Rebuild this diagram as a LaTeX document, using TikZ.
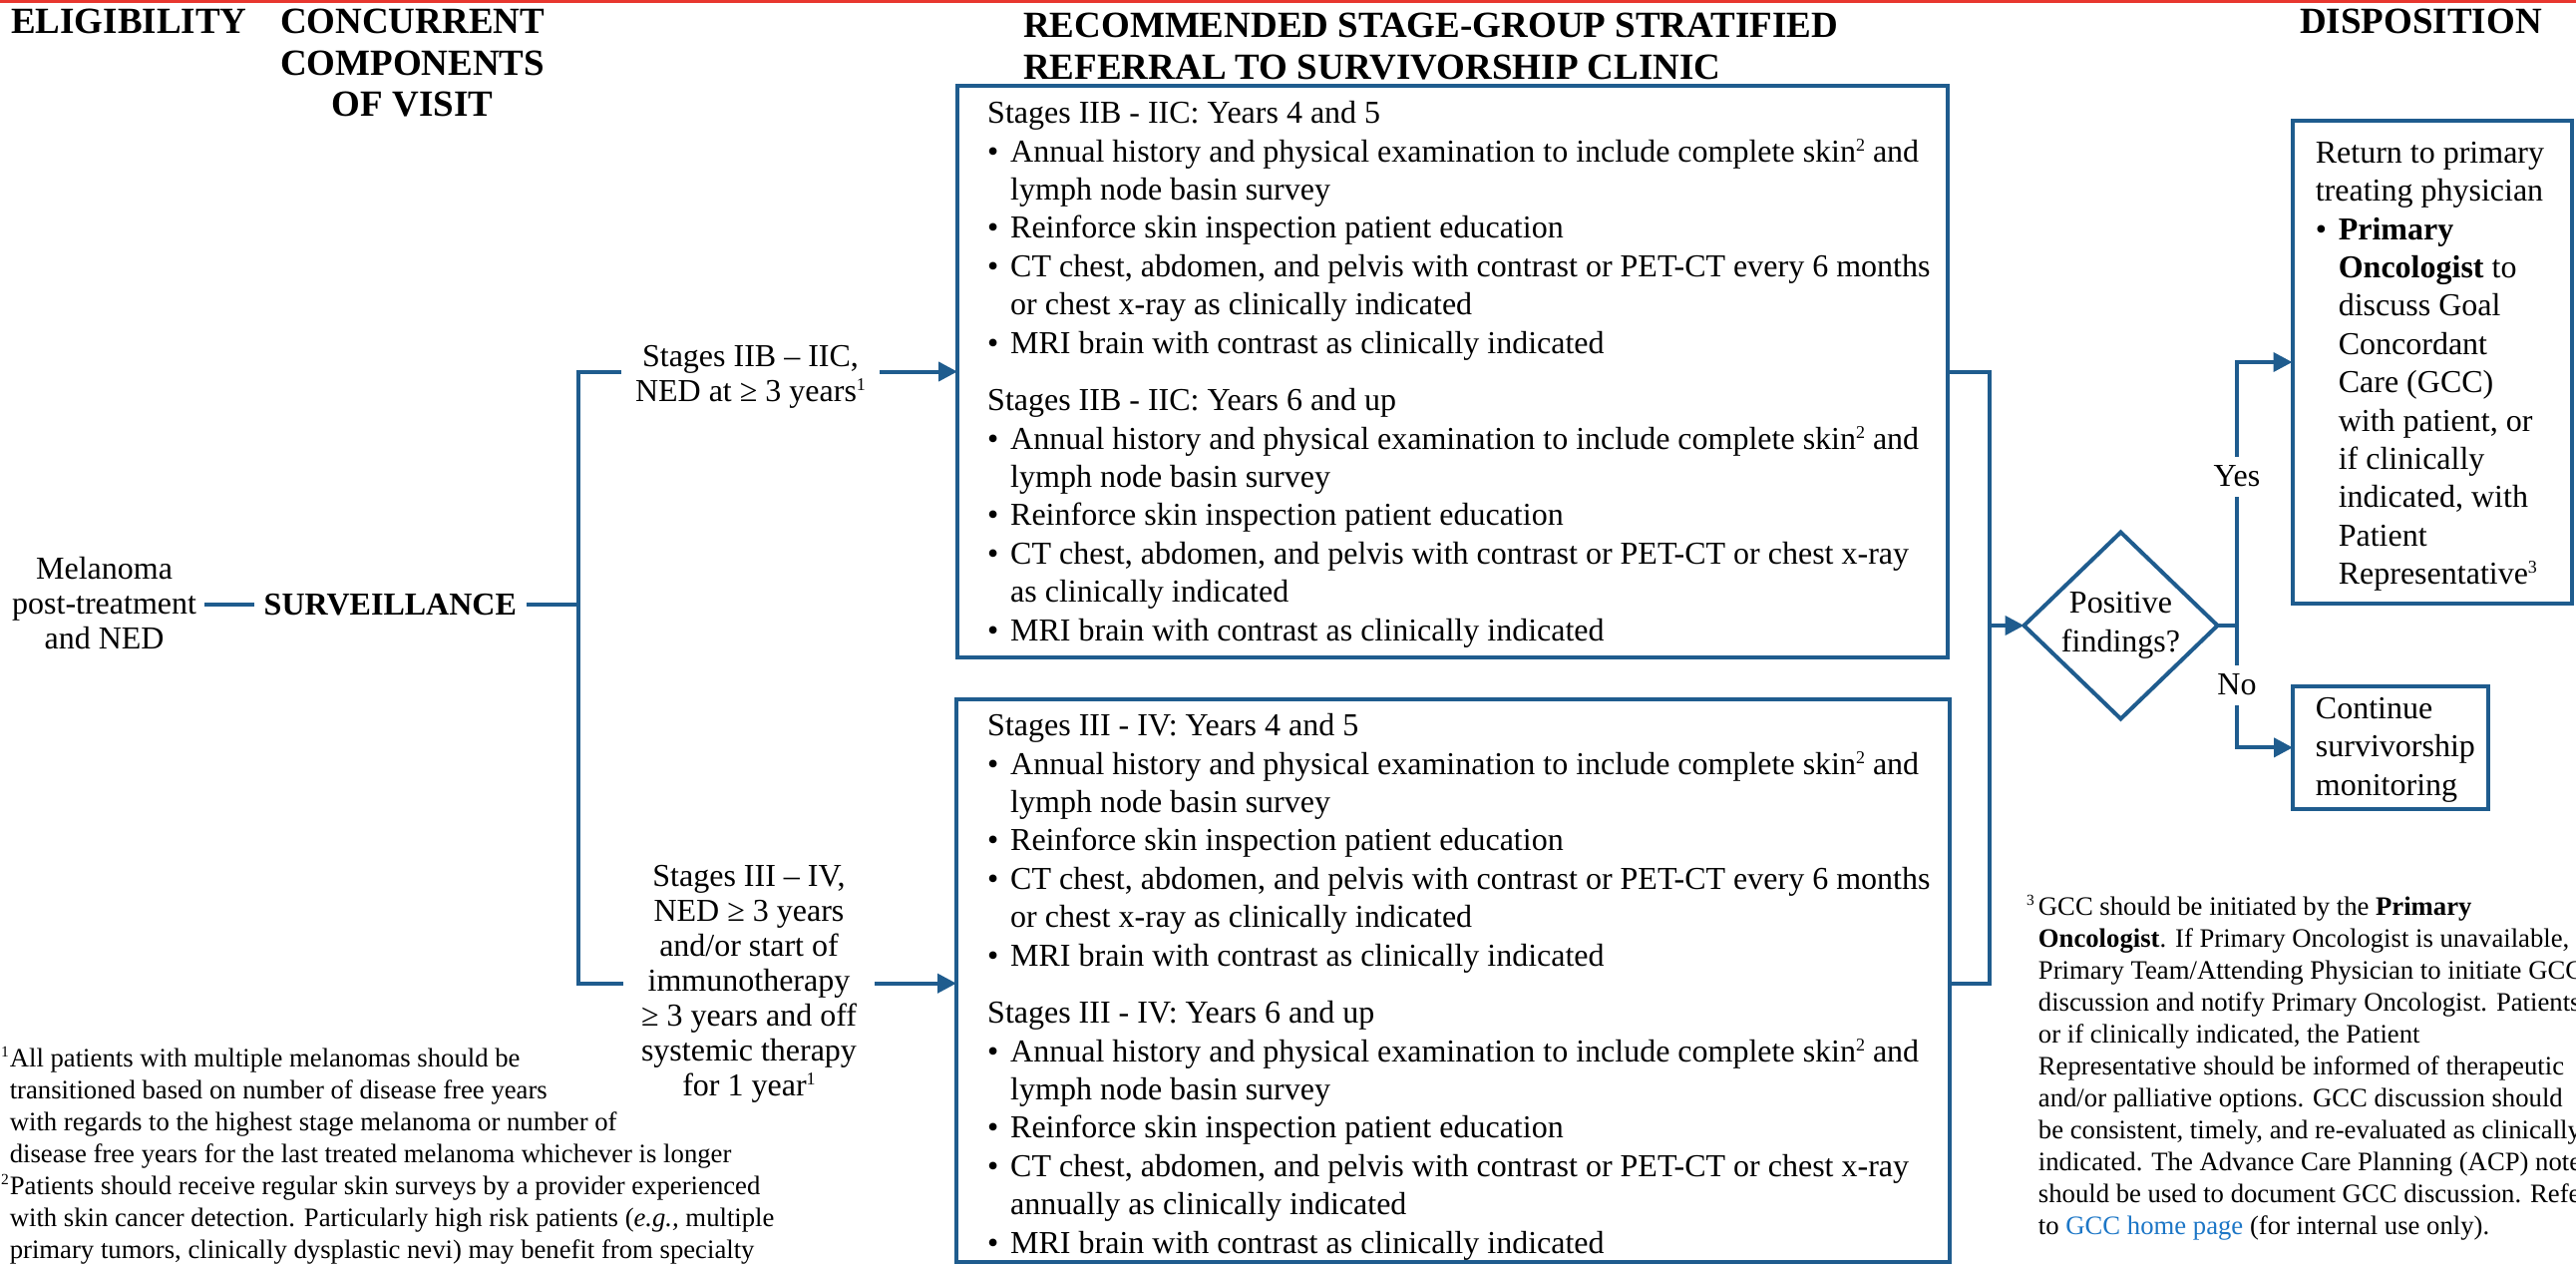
\documentclass[tikz,border=0pt]{standalone}
\usepackage{fontspec}
\setmainfont{Liberation Serif}
\usetikzlibrary{arrows.meta,shapes.geometric,calc}
\definecolor{flowblue}{HTML}{1F5C8E}
\definecolor{topred}{HTML}{E8372F}
\definecolor{linkblue}{HTML}{1C76C6}
\newcommand{\bul}{\makebox[23pt][l]{\textbullet}}
\newcommand{\ind}{\makebox[23pt]{}}
\newcommand{\sups}[1]{\raisebox{11pt}{\fontsize{18}{18}\selectfont #1}}
\newcommand{\nsups}[1]{\raisebox{9.5pt}{\fontsize{15.5}{15.5}\selectfont #1}}
\begin{document}
\begin{tikzpicture}[x=1pt,y=-1pt,
  conn/.style={draw=flowblue,line width=4pt},
  arr/.style={conn,-{Triangle[length=19pt,width=19pt]}},
  box/.style={draw=flowblue,line width=4pt,rectangle,inner sep=0pt,outer sep=0pt,anchor=north west},
  body/.style={font=\fontsize{32}{38.4}\selectfont,align=left,inner sep=0pt,anchor=north west},
  lbl/.style={font=\fontsize{32}{35}\selectfont,align=center,inner ysep=0pt,anchor=north},
  head/.style={font=\bfseries\fontsize{37}{41.5}\selectfont,inner sep=0pt},
  note/.style={font=\fontsize{26.7}{32}\selectfont,align=left,inner sep=0pt,anchor=north west},
  yn/.style={font=\fontsize{32}{38.4}\selectfont,fill=white,inner xsep=3pt,inner ysep=0pt,text height=30pt,text depth=10pt,anchor=base},
]
\useasboundingbox (0,0) rectangle (2583,1269);
\fill[topred] (0,0) rectangle (2583,2.5);

% headers
\node[head,anchor=base west] (hElig) at (11,33.3) {ELIGIBILITY};
\node[head,align=center,anchor=north] (hConc) at (413.6,0.3) {\rule{0pt}{33pt}CONCURRENT\\COMPONENTS\\OF VISIT};
\node[head,align=left,anchor=north west] (hRec) at (1026,4.5) {\rule{0pt}{33pt}RECOMMENDED STAGE-GROUP STRATIFIED\\REFERRAL TO SURVIVORSHIP CLINIC};
\node[head,anchor=base east] (hDisp) at (2549,33.5) {DISPOSITION};

% boxes
\node[box,minimum width=993pt,minimum height=573pt] (b1) at (960,86) {};
\node[box,minimum width=996pt,minimum height=564.5pt] (b2) at (959,700.5) {};
\node[box,minimum width=280.5pt,minimum height=484pt] (ret) at (2298.5,121) {};
\node[box,minimum width=195.7pt,minimum height=122.7pt] (cont) at (2299,688) {};

% box texts
\node[body] (t1) at (990,93.5) {\rule{0pt}{30pt}Stages IIB - IIC: Years 4 and 5\\
\bul Annual history and physical examination to include complete skin\sups{2} and\\
\ind lymph node basin survey\\
\bul Reinforce skin inspection patient education\\
\bul CT chest, abdomen, and pelvis with contrast or PET-CT every 6 months\\
\ind or chest x-ray as clinically indicated\\
\bul MRI brain with contrast as clinically indicated\\[19.2pt]
Stages IIB - IIC: Years 6 and up\\
\bul Annual history and physical examination to include complete skin\sups{2} and\\
\ind lymph node basin survey\\
\bul Reinforce skin inspection patient education\\
\bul CT chest, abdomen, and pelvis with contrast or PET-CT or chest x-ray\\
\ind as clinically indicated\\
\bul MRI brain with contrast as clinically indicated};

\node[body] (t2) at (990,707.5) {\rule{0pt}{30pt}Stages III - IV: Years 4 and 5\\
\bul Annual history and physical examination to include complete skin\sups{2} and\\
\ind lymph node basin survey\\
\bul Reinforce skin inspection patient education\\
\bul CT chest, abdomen, and pelvis with contrast or PET-CT every 6 months\\
\ind or chest x-ray as clinically indicated\\
\bul MRI brain with contrast as clinically indicated\\[19.2pt]
Stages III - IV: Years 6 and up\\
\bul Annual history and physical examination to include complete skin\sups{2} and\\
\ind lymph node basin survey\\
\bul Reinforce skin inspection patient education\\
\bul CT chest, abdomen, and pelvis with contrast or PET-CT or chest x-ray\\
\ind annually as clinically indicated\\
\bul MRI brain with contrast as clinically indicated};

\node[body] (tret) at (2321.6,133) {\rule{0pt}{30pt}Return to primary\\
treating physician\\
\bul\textbf{Primary}\\
\ind\textbf{Oncologist} to\\
\ind discuss Goal\\
\ind Concordant\\
\ind Care (GCC)\\
\ind with patient, or\\
\ind if clinically\\
\ind indicated, with\\
\ind Patient\\
\ind Representative\sups{3}};

\node[body] (tcont) at (2321.7,690) {\rule{0pt}{30pt}Continue\\survivorship\\monitoring};

% left side
\node[lbl,inner xsep=8pt] (mel) at (104.6,550) {\rule{0pt}{30pt}Melanoma\\post-treatment\\and NED};
\node[font=\bfseries\fontsize{32}{38.4}\selectfont,inner xsep=10pt,anchor=base] (surv) at (391.3,616) {SURVEILLANCE};
\node[lbl,inner xsep=14pt] (lA) at (752.5,337) {\rule{0pt}{30pt}Stages IIB – IIC,\\NED at ≥ 3 years\sups{1}};
\node[lbl,inner xsep=18pt] (lB) at (751,858.3) {\rule{0pt}{30pt}Stages III – IV,\\NED ≥ 3 years\\and/or start of\\immunotherapy\\≥ 3 years and off\\systemic therapy\\for 1 year\sups{1}};

% decision
\node[draw=flowblue,line width=4pt,diamond,minimum width=194pt,minimum height=187pt,inner sep=0pt,outer sep=0pt,align=center,font=\fontsize{32}{38.4}\selectfont] (dia) at (2126.5,627) {Positive\\findings?};

% coordinates
\coordinate (jA) at (580,372.5);
\coordinate (jB) at (580,985.7);
\coordinate (rA) at (1995,372.5);
\coordinate (rB) at (1995,985.7);
\coordinate (yb) at (2243,627);

% connectors
\draw[conn] (mel.east |- surv.west) -- (surv.west);
\draw[conn] (surv.east) -- (surv.east -| jA);
\draw[conn] (jA -| lA.west) -- (jA) -- (jB) -- (jB -| lB.west);
\draw[arr] (jA -| lA.east) -- (jA -| b1.west);
\draw[arr] (jB -| lB.east) -- (jB -| b2.west);
\draw[conn] (rA -| b1.east) -- (rA) -- (rB) -- (rB -| b2.east);
\draw[arr] (rA |- dia.west) -- (dia.west);
\draw[arr] (dia.east) -- (yb) |- (ret.west);
\draw[arr] (dia.east) -- (yb) |- (cont.west);

\node[yn] (yes) at (2243,487.5) {Yes};
\node[yn] (no) at (2243,696.7) {No};

% footnotes
\node[note] (fn12) at (9.6,1041) {\rule{0pt}{28pt}\llap{\nsups{1}\hspace{1pt}}All patients with multiple melanomas should be\\
transitioned based on number of disease free years\\
with regards to the highest stage melanoma or number of\\
disease free years for the last treated melanoma whichever is longer\\
\llap{\nsups{2}\hspace{1pt}}Patients should receive regular skin surveys by a provider experienced\\
with skin cancer detection. Particularly high risk patients (\textit{e.g.,} multiple\\
primary tumors, clinically dysplastic nevi) may benefit from specialty};

\begin{scope}
\clip (2000,860) rectangle (2583,1269);
\node[note] (fn3) at (2043.7,889) {\rule{0pt}{28pt}\llap{\nsups{3}\hspace{4pt}}GCC should be initiated by the \textbf{Primary}\\
\textbf{Oncologist}. If Primary Oncologist is unavailable,\\
Primary Team/Attending Physician to initiate GCC\\
discussion and notify Primary Oncologist. Patients\\
or if clinically indicated, the Patient\\
Representative should be informed of therapeutic\\
and/or palliative options. GCC discussion should\\
be consistent, timely, and re-evaluated as clinically\\
indicated. The Advance Care Planning (ACP) note\\
should be used to document GCC discussion. Refer\\
to \textcolor{linkblue}{GCC home page} (for internal use only).};
\end{scope}
\end{tikzpicture}
\end{document}
